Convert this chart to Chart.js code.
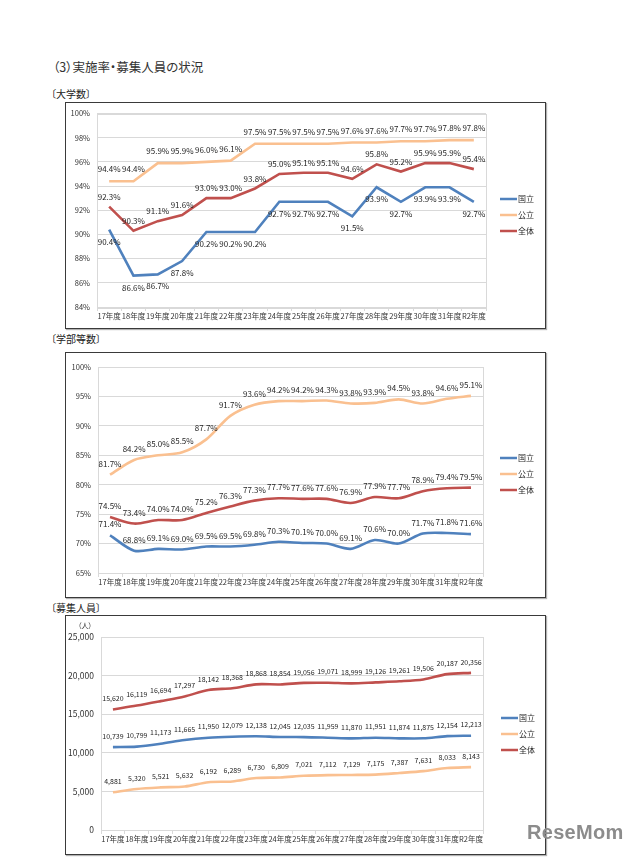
<!DOCTYPE html>
<html><head><meta charset="utf-8">
<script src="https://cdn.jsdelivr.net/npm/chart.js@4.4.1/dist/chart.umd.min.js"></script>
<style>
html,body{margin:0;padding:0;background:#fff;}
body{width:640px;height:858px;position:relative;overflow:hidden;font-family:'Noto Sans CJK JP',sans-serif;color:#222;}
.t{position:absolute;white-space:nowrap;font-feature-settings:"palt";}
.box{position:absolute;box-sizing:border-box;border:1px solid #3a3a3a;box-shadow:1px 1px 1px rgba(0,0,0,.3);}
canvas{position:absolute;}
</style></head><body>
<div class="t" style="left:53px;top:59px;font-size:12.5px;line-height:16px;color:#333">（3）実施率・募集人員の状況</div>
<div class="t" style="left:51px;top:88px;font-size:10px;line-height:12px">〔大学数〕</div>
<div class="box" style="left:65px;top:102px;width:481px;height:227px"></div>
<canvas id="c1" width="481" height="227" style="left:65px;top:102px"></canvas>

<div class="t" style="left:51px;top:333px;font-size:10px;line-height:12px">〔学部等数〕</div>
<div class="box" style="left:65px;top:352px;width:481px;height:246px"></div>
<canvas id="c2" width="481" height="246" style="left:65px;top:352px"></canvas>

<div class="t" style="left:51px;top:602px;font-size:10px;line-height:12px">〔募集人員〕</div>
<div class="box" style="left:65px;top:615px;width:481px;height:240px"></div>
<canvas id="c3" width="481" height="240" style="left:65px;top:615px"></canvas>
<div class="t" style="left:78px;top:621px;font-size:7px;line-height:9px;color:#333">（人）</div>

<div class="t" style="left:527px;top:820px;font-family:'Liberation Sans',sans-serif;font-weight:bold;font-size:20px;line-height:24px;color:#8c8c8c;letter-spacing:0.3px">ReseMom</div>

<script>
// ---- data ----
const categories = ['17年度','18年度','19年度','20年度','21年度','22年度','23年度','24年度','25年度','26年度','27年度','28年度','29年度','30年度','31年度','R2年度'];
const seriesNames = ['国立','公立','全体'];

// 大学数 (%)
const univKokuritsu = [90.4,86.6,86.7,87.8,90.2,90.2,90.2,92.7,92.7,92.7,91.5,93.9,92.7,93.9,93.9,92.7];
const univKouritsu  = [94.4,94.4,95.9,95.9,96.0,96.1,97.5,97.5,97.5,97.5,97.6,97.6,97.7,97.7,97.8,97.8];
const univZentai    = [92.3,90.3,91.1,91.6,93.0,93.0,93.8,95.0,95.1,95.1,94.6,95.8,95.2,95.9,95.9,95.4];

// 学部等数 (%)
const facKokuritsu = [71.4,68.8,69.1,69.0,69.5,69.5,69.8,70.3,70.1,70.0,69.1,70.6,70.0,71.7,71.8,71.6];
const facKouritsu  = [81.7,84.2,85.0,85.5,87.7,91.7,93.6,94.2,94.2,94.3,93.8,93.9,94.5,93.8,94.6,95.1];
const facZentai    = [74.5,73.4,74.0,74.0,75.2,76.3,77.3,77.7,77.6,77.6,76.9,77.9,77.7,78.9,79.4,79.5];

// 募集人員 (人)
const capKokuritsu = [10739,10799,11173,11665,11950,12079,12138,12045,12035,11959,11870,11951,11874,11875,12154,12213];
const capKouritsu  = [4881,5320,5521,5632,6192,6289,6730,6809,7021,7112,7129,7175,7387,7631,8033,8143];
const capZentai    = [15620,16119,16694,17297,18142,18368,18868,18854,19056,19071,18999,19126,19261,19506,20187,20356];

// ---- styles ----
const colors = ['#4F81BD','#FAC090','#C0504D'];
const FONT = "'Noto Sans CJK JP', sans-serif";
const pct = v => v.toFixed(1) + '%';
const num = v => v.toLocaleString('en-US');

const dataLabels = {
  id: 'dataLabels',
  afterDatasetsDraw(chart, args, o) {
    const ctx = chart.ctx;
    ctx.save();
    ctx.font = o.font;
    ctx.fillStyle = '#262626';
    ctx.textAlign = 'center';
    ctx.textBaseline = 'middle';
    chart.data.datasets.forEach((ds, i) => {
      const meta = chart.getDatasetMeta(i);
      meta.data.forEach((pt, j) => {
        ctx.fillText(o.format(ds.data[j]), pt.x, pt.y + o.offsets[i]);
      });
    });
    ctx.restore();
  }
};
const plotBorder = {
  id: 'plotBorder',
  beforeDatasetsDraw(chart) {
    const a = chart.chartArea, ctx = chart.ctx;
    ctx.save();
    ctx.strokeStyle = '#d9d9d9';
    ctx.lineWidth = 1;
    ctx.strokeRect(Math.round(a.left) + 0.5, Math.round(a.top) + 0.5, Math.round(a.right - a.left), Math.round(a.bottom - a.top));
    ctx.restore();
  }
};
const sideLegend = {
  id: 'sideLegend',
  afterDraw(chart, args, o) {
    const ctx = chart.ctx;
    ctx.save();
    ctx.font = o.font;
    ctx.textBaseline = 'middle';
    ctx.textAlign = 'left';
    chart.data.datasets.forEach((ds, i) => {
      const y = o.y + i * o.gap;
      ctx.strokeStyle = ds.borderColor;
      ctx.lineWidth = 2.5;
      ctx.beginPath(); ctx.moveTo(o.x, y); ctx.lineTo(o.x + o.len, y); ctx.stroke();
      ctx.fillStyle = '#262626';
      ctx.fillText(ds.label, o.x + o.len + 1, y);
    });
    ctx.restore();
  }
};

function makeChart(id, series, g) {
  return new Chart(document.getElementById(id), {
    type: 'line',
    data: {
      labels: categories,
      datasets: series.map((d, i) => ({
        label: seriesNames[i], data: d, borderColor: colors[i], backgroundColor: colors[i],
        borderWidth: 2.6, pointRadius: 0, tension: g.tension, fill: false
      }))
    },
    plugins: [plotBorder, dataLabels, sideLegend],
    options: {
      responsive: false, animation: false, devicePixelRatio: 1,
      layout: { padding: { left: 0, top: g.top, right: g.right, bottom: 0 } },
      plugins: {
        legend: { display: false }, tooltip: { enabled: false },
        dataLabels: { font: g.labelFont, format: g.format, offsets: g.offsets },
        sideLegend: { x: g.legX, y: g.legY, gap: 16, len: 17, font: '8px ' + FONT }
      },
      scales: {
        x: {
          type: 'category', offset: true,
          grid: { offset: true, drawOnChartArea: false, drawTicks: true, tickLength: 4, color: '#d9d9d9' },
          border: { display: true, color: '#d9d9d9' },
          ticks: { font: { family: FONT, size: 7.5 }, color: '#333', autoSkip: false, maxRotation: 0, minRotation: 0, padding: 1 },
          afterFit: s => { s.height = g.xh; }
        },
        y: {
          min: g.min, max: g.max,
          grid: { color: '#d9d9d9', drawTicks: false },
          border: { display: false },
          ticks: { stepSize: g.step, padding: 7, font: { family: FONT, size: g.ytSize }, color: '#333', callback: g.yfmt },
          afterFit: s => { s.width = g.yw; }
        }
      }
    }
  });
}

makeChart('c1', [univKokuritsu, univKouritsu, univZentai], {
  tension: 0, top: 10, right: 60, xh: 22, yw: 32, min: 84, max: 100, step: 2,
  yfmt: v => v + '%', ytSize: 7.5, labelFont: '8px ' + FONT, format: pct, offsets: [12, -12, -10],
  legX: 435, legY: 97
});
makeChart('c2', [facKokuritsu, facKouritsu, facZentai], {
  tension: 0.3, top: 15, right: 63, xh: 25, yw: 33, min: 65, max: 100, step: 5,
  yfmt: v => v + '%', ytSize: 7.5, labelFont: '8px ' + FONT, format: pct, offsets: [-11, -11, -11],
  legX: 435, legY: 106
});
makeChart('c3', [capKokuritsu, capKouritsu, capZentai], {
  tension: 0.3, top: 22, right: 63, xh: 25, yw: 36, min: 0, max: 25000, step: 5000,
  yfmt: v => num(v), ytSize: 8.5, labelFont: '7px ' + FONT, format: num, offsets: [-11, -11, -11],
  legX: 436, legY: 103
});
</script>
</body></html>
